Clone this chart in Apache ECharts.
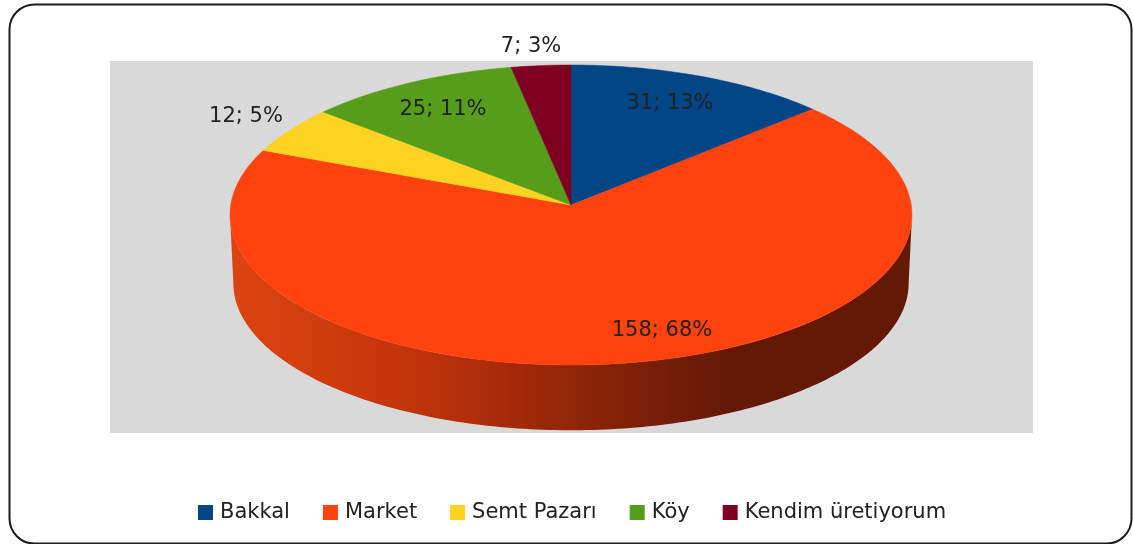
<!DOCTYPE html>
<html>
<head>
<meta charset="utf-8">
<style>html,body{margin:0;padding:0;background:#fff}#c{width:1133px;height:544px}</style>
<script src="https://cdn.jsdelivr.net/npm/echarts@6/dist/echarts.min.js"></script>
</head>
<body>
<div id="c"></div>
<script>
const categories = ['Bakkal', 'Market', 'Semt Pazarı', 'Köy', 'Kendim üretiyorum'];
const values = [31, 158, 12, 25, 7];
const colors = ['#004586', '#ff420e', '#ffd320', '#579d1c', '#7e0021'];
const labelCenters = [[670, 104], [662, 331], [246, 117], [443, 110], [531, 47]];
const wallStops = [
  { offset: 0, color: '#dc4410' },
  { offset: 0.25, color: '#c4350b' },
  { offset: 0.4, color: '#a82a09' },
  { offset: 0.51, color: '#8f2407' },
  { offset: 0.72, color: '#651905' },
  { offset: 1, color: '#651905' }
];
const FONT_FAMILY = '"DejaVu Sans", sans-serif';
const FONT_SIZE = 21;
const TEXT = '#222222';

// Perspective projection of the pie disc
const topFace = { cx: 571, cy: 205, A: 340.2, B: 149.33, k: 1 / 15 };
const baseFace = { cx: 571, cy: 273.5, A: 336.9, B: 146.3, k: 1 / 15 };
const silhouette = Math.acos(-topFace.k) * 180 / Math.PI;
function project(face, thetaDeg) {
  const t = thetaDeg * Math.PI / 180;
  const u = Math.sin(t), v = Math.cos(t), w = 1 + face.k * v;
  return [face.cx + face.A * u / w, face.cy - face.B * v / w];
}
const total = values.reduce((a, b) => a + b, 0);
const starts = [];
values.reduce((acc, v, i) => { starts[i] = acc; return acc + v; }, 0);

function arc(face, a0, a1) {
  const pts = [];
  const n = Math.max(2, Math.ceil(Math.abs(a1 - a0)));
  for (let i = 0; i <= n; i++) pts.push(project(face, a0 + (a1 - a0) * i / n));
  return pts;
}

function renderSlice(idx) {
  return function (params, api) {
    const v = api.value(0);
    const a0 = starts[idx] / total * 360;
    const a1 = a0 + v / total * 360;
    const children = [];
    const f0 = Math.max(a0, silhouette), f1 = Math.min(a1, 360 - silhouette);
    if (f1 > f0) {
      const pts = arc(topFace, f0, f1).concat(arc(baseFace, f0, f1).reverse());
      children.push({
        type: 'polygon',
        shape: { points: pts },
        style: {
          fill: { type: 'linear', x: 230, y: 0, x2: 912, y2: 0, global: true, colorStops: wallStops }
        }
      });
    }
    const pts = [[topFace.cx, topFace.cy]].concat(arc(topFace, a0, a1));
    children.push({
      type: 'polygon',
      shape: { points: pts },
      style: { fill: colors[idx], stroke: colors[idx], lineWidth: 0.5 }
    });
    children.push({
      type: 'text',
      z2: 100,
      style: {
        text: v + '; ' + Math.round(v / total * 100) + '%',
        x: labelCenters[idx][0],
        y: labelCenters[idx][1],
        align: 'center',
        verticalAlign: 'middle',
        font: FONT_SIZE + 'px ' + FONT_FAMILY,
        fill: TEXT
      }
    });
    return { type: 'group', children };
  };
}

const chart = echarts.init(document.getElementById('c'), null, { renderer: 'canvas' });
chart.setOption({
  animation: false,
  backgroundColor: '#ffffff',
  graphic: [
    { type: 'rect', z: -2, silent: true,
      shape: { x: 9.5, y: 4.5, width: 1122, height: 539, r: 25 },
      style: { fill: '#ffffff', stroke: '#1c1c1c', lineWidth: 2 } },
    { type: 'rect', z: -1, silent: true,
      shape: { x: 110, y: 61, width: 923, height: 372 },
      style: { fill: '#d9d9d9' } }
  ],
  legend: {
    left: 198,
    top: 502,
    padding: 0,
    icon: 'rect',
    itemWidth: 15,
    itemHeight: 15,
    itemGap: 33,
    data: categories,
    textStyle: { fontFamily: FONT_FAMILY, fontSize: FONT_SIZE, color: TEXT, padding: [0, 0, 0, 2] }
  },
  series: categories.map((name, i) => ({
    type: 'custom',
    name,
    coordinateSystem: 'none',
    clip: false,
    itemStyle: { color: colors[i] },
    data: [values[i]],
    renderItem: renderSlice(i)
  }))
});
</script>
</body>
</html>
